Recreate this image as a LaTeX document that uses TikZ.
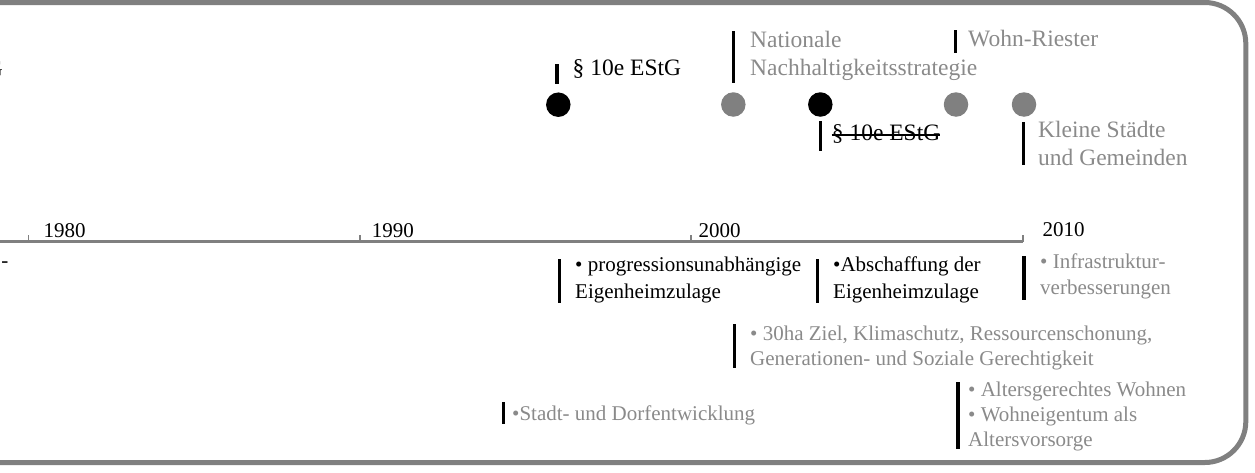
\documentclass[tikz,border=0pt]{standalone}
\usepackage{fontspec}
\setmainfont{Liberation Serif}
\definecolor{framegray}{RGB}{128,128,128}
\definecolor{txtgray}{RGB}{138,138,138}
\definecolor{dotgray}{RGB}{128,128,128}
% stack of lines with a fixed baseline distance; the first baseline is the box baseline
\newcommand\linestack[2]{\vtop{\baselineskip=#1pt\relax #2}}
\tikzset{
  lbl/.style={inner sep=0pt, anchor=base west, font=\fontsize{21}{26}\selectfont},
  toplbl/.style={lbl, font=\fontsize{23.5}{28}\selectfont},
  gtxt/.style={text=txtgray},
  bar/.style={line width=3.4pt, black},
  dot/.style={circle, inner sep=0pt, minimum size=24.5pt},
  blackdot/.style={dot, fill=black},
  graydot/.style={dot, fill=dotgray},
  frame/.style={line width=5pt, framegray, rounded corners=41pt},
  axis/.style={line width=3pt, framegray},
  yeartick/.style={line width=1.4pt, framegray},
  strike/.style={line width=1.6pt, black}
}
\begin{document}
\begin{tikzpicture}[x=1pt, y=-1pt]
\useasboundingbox (0,0) rectangle (1255,472);
\clip (0,0) rectangle (1255,472);

% outer frame, open to the left
\draw[frame] (-20,2.5) -- (1245.8,2.5) -- (1245.8,462.5) -- (-20,462.5);

% time axis with decade ticks
\draw[axis] (-10,241.5) -- (1023,241.5);
\foreach \tx in {28.3, 360, 691, 1023}
  \draw[yeartick] (\tx,241.5) -- (\tx,234.5);
\node[lbl] (y1980) at (43.3,237.3) {1980};
\node[lbl] (y1990) at (371.7,237.3) {1990};
\node[lbl] (y2000) at (698.3,237.3) {2000};
\node[lbl] (y2010) at (1042.3,236.7) {2010};

% events
\node[blackdot] (e1) at (558.3,104.7) {};
\node[graydot]  (e2) at (733.3,104.5) {};
\node[blackdot] (e3) at (820.3,104.5) {};
\node[graydot]  (e4) at (956,104.5) {};
\node[graydot]  (e5) at (1024,104.5) {};

% labels above the axis
\node[toplbl, anchor=base east] (t0) at (3,76) {EStG};
\draw[bar] (557,64) -- (557,84);
\node[toplbl] (t1) at (572.5,75.5) {§ 10e EStG};

\draw[bar] (733.5,31) -- (733.5,83);
\node[toplbl, gtxt] (t2) at (750,47) {\linestack{28}{\hbox{Nationale}\hbox{Nachhaltigkeitsstrategie}}};

\draw[bar] (820.5,121) -- (820.5,151);
\node[toplbl] (t3) at (831.7,140) {§ 10e EStG};
\draw[strike] ([yshift=5pt]t3.base west) -- ([yshift=5pt]t3.base east);

\draw[bar] (955.5,30) -- (955.5,53);
\node[toplbl, gtxt] (t4) at (968,46.7) {Wohn-Riester};

\draw[bar] (1023.5,122) -- (1023.5,165);
\node[toplbl, gtxt] (t5) at (1038,137) {\linestack{28}{\hbox{Kleine Städte}\hbox{und Gemeinden}}};

% labels below the axis
\node[lbl, anchor=base east] (b0) at (8.5,267) {-};

\draw[bar] (559.5,259) -- (559.5,303);
\node[lbl] (b1) at (575,271) {\linestack{27}{\hbox{• progressionsunabhängige}\hbox{Eigenheimzulage}}};

\draw[bar] (817.5,259) -- (817.5,303);
\node[lbl] (b2) at (833,271) {\linestack{27}{\hbox{•Abschaffung der}\hbox{Eigenheimzulage}}};

\draw[bar] (1024,256) -- (1024,300);
\node[lbl, gtxt] (b3) at (1040,268) {\linestack{26}{\hbox{• Infrastruktur-}\hbox{verbesserungen}}};

\draw[bar] (734.5,324) -- (734.5,368);
\node[lbl, gtxt] (b4) at (750,340) {\linestack{25}{\hbox{• 30ha Ziel, Klimaschutz, Ressourcenschonung,}\hbox{Generationen- und Soziale Gerechtigkeit}}};

\draw[bar] (958,382) -- (958,449);
\node[lbl, gtxt] (b5) at (968,396.7) {\linestack{25}{\hbox{• Altersgerechtes Wohnen}\hbox{• Wohneigentum als}\hbox{Altersvorsorge}}};

\draw[bar] (503.5,402) -- (503.5,424);
\node[lbl, gtxt] (b6) at (512,420) {•Stadt- und Dorfentwicklung};
\end{tikzpicture}
\end{document}
